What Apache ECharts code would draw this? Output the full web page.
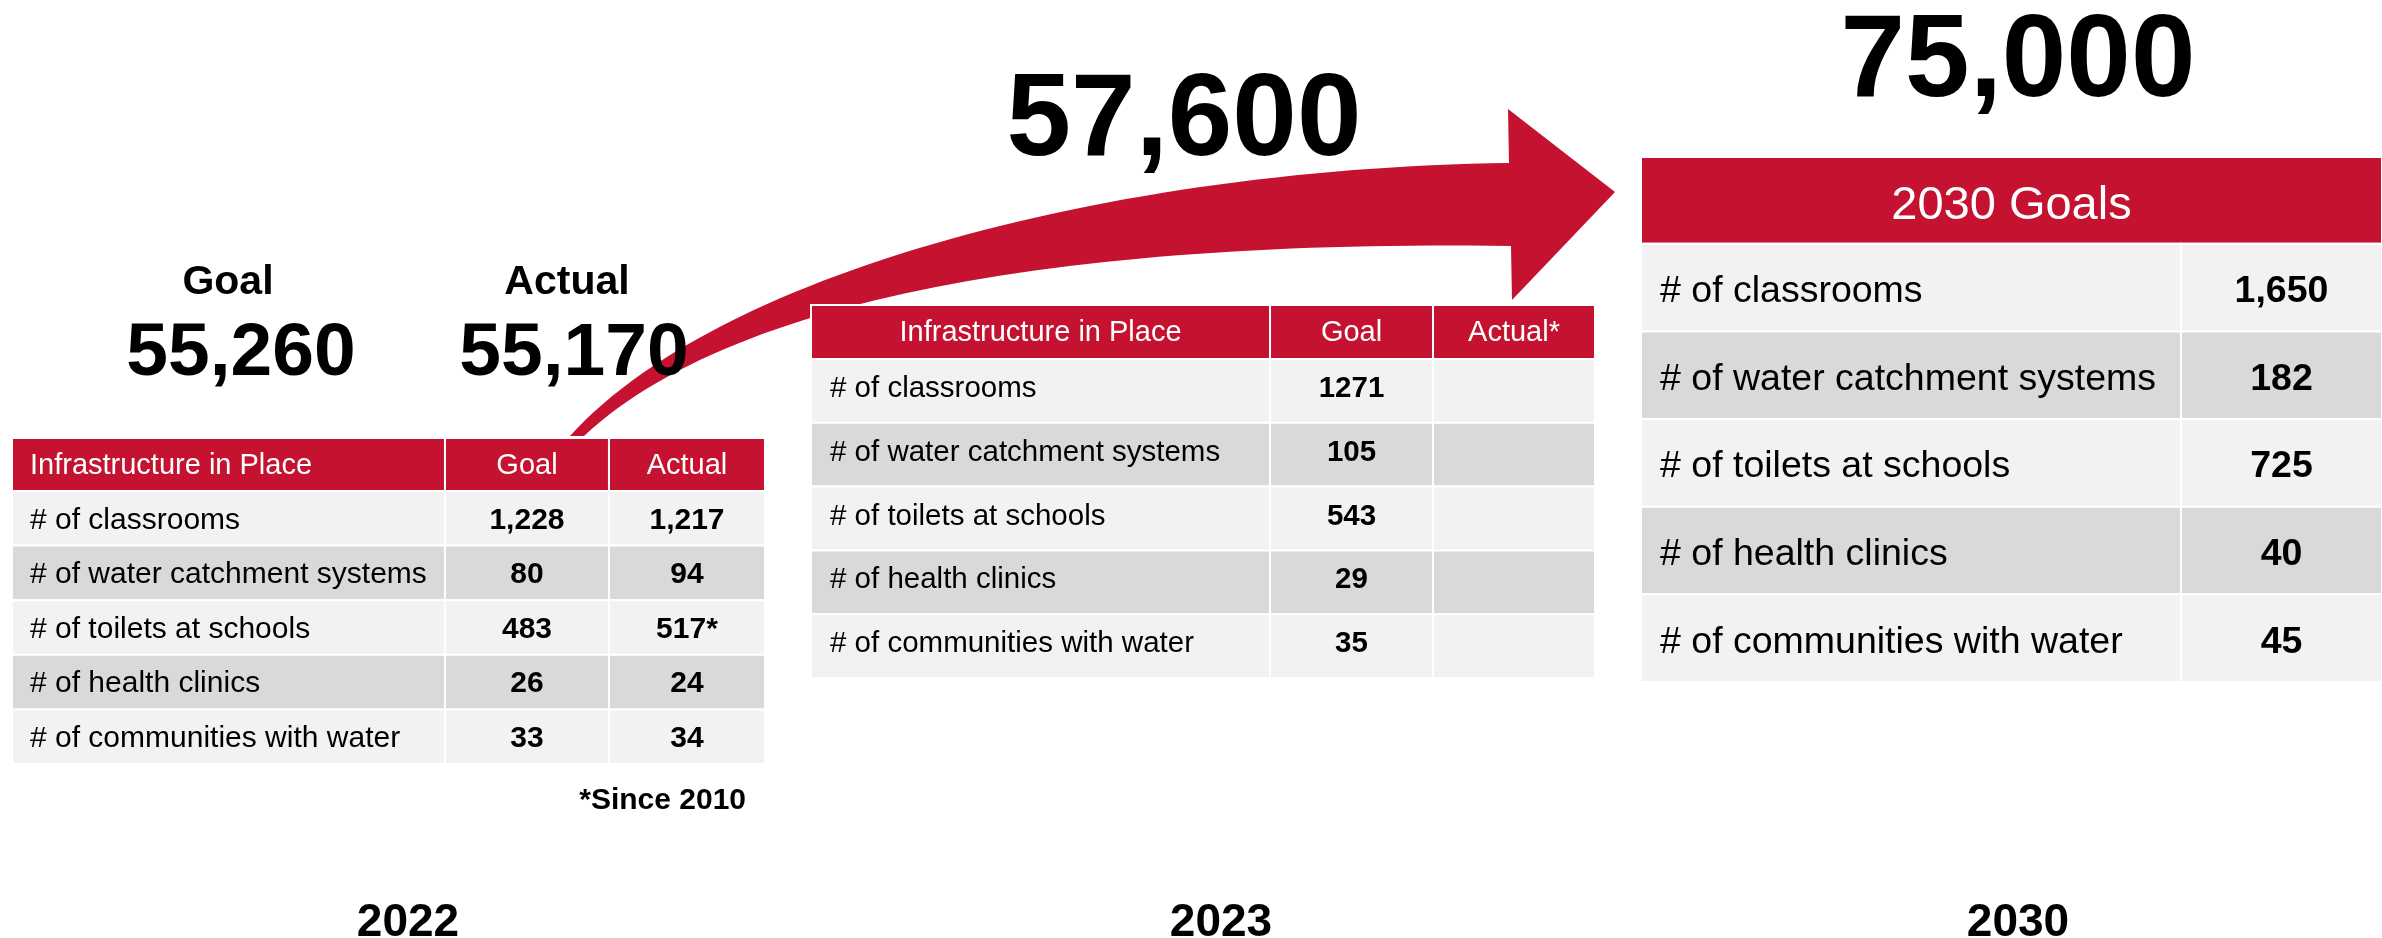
<!DOCTYPE html>
<html>
<head>
<meta charset="utf-8">
<title>Infrastructure goals 2022 - 2030</title>
<script src="https://cdn.jsdelivr.net/npm/echarts@6/dist/echarts.min.js"></script>
<style>
  html, body {margin: 0; padding: 0; background: #fff;}
  #main {width: 2382px; height: 938px;}
</style>
</head>
<body>
<div id="main"></div>
<script>
  'use strict';

  /* data */
  var rowLabels = ['# of classrooms', '# of water catchment systems', '# of toilets at schools', '# of health clinics', '# of communities with water'];
  var header2022 = ['Infrastructure in Place', 'Goal', 'Actual'];
  var goal2022 = [1228, 80, 483, 26, 33];
  var actual2022 = [1217, 94, 517, 24, 34];
  var actualNote2022 = ['', '', '*', '', ''];
  var header2023 = ['Infrastructure in Place', 'Goal', 'Actual*'];
  var goal2023 = [1271, 105, 543, 29, 35];
  var actual2023 = [null, null, null, null, null];
  var header2030 = ['2030 Goals'];
  var goal2030 = [1650, 182, 725, 40, 45];
  var totalGoal2022 = 55260;
  var totalActual2022 = 55170;
  var totalGoal2023 = 57600;
  var totalGoal2030 = 75000;
  var years = ['2022', '2023', '2030'];
  var footnote = '*Since 2010';

  var RED = '#C41230', LIGHT = '#F2F2F2', DARK = '#D9D9D9';
  var FONT = '"Liberation Sans", Arial, Helvetica, sans-serif';

  function fmt(v, sep){
    if(v === null || v === undefined){
      return '';
    }
    return sep ? v.toLocaleString('en-US') : String(v);
  }

  /*把表头和各列拼成单元格*/
  function buildCells(header, cols, headerSpan){
    var cells = [];
    header.forEach(function (h, c){
      cells.push({c: c, r: -1, span: headerSpan ? cols.length : 1, text: h});
    });
    cols.forEach(function (col, c){
      col.forEach(function (txt, r){
        cells.push({c: c, r: r, span: 1, text: txt});
      });
    });
    return cells;
  }

  var tables = [
    {
      grid: {left: 12, top: 438, width: 753, height: 326},
      edges: [0, 0.575, 0.7928, 1], hdr: 0.97, pad: 18, dy: 2, headDy: 2,
      headFont: 29, bodyFont: 30, headLeft: true,
      cells: buildCells(header2022, [
        rowLabels,
        goal2022.map(function (v){ return fmt(v, true); }),
        actual2022.map(function (v, i){ return fmt(v, true) + actualNote2022[i]; })
      ])
    },
    {
      grid: {left: 811, top: 305, width: 784, height: 373},
      edges: [0, 0.5855, 0.7934, 1], hdr: 0.846, pad: 19, dy: -2, headDy: 1,
      headFont: 29, bodyFont: 29.5, headLeft: false,
      cells: buildCells(header2023, [
        rowLabels,
        goal2023.map(function (v){ return fmt(v, false); }),
        actual2023.map(function (v){ return fmt(v, false); })
      ])
    },
    {
      grid: {left: 1641, top: 157, width: 752, height: 525},
      edges: [0, 0.7287, 1], hdr: 0.99, pad: 19, dy: 4, headDy: 6,
      headFont: 47, bodyFont: 37.5, headLeft: false,
      cells: buildCells(header2030, [
        rowLabels,
        goal2030.map(function (v){ return fmt(v, true); })
      ], true)
    }
  ];

  function tableRender(t){
    return function (params, api){
      var d = t.cells[params.dataIndex];
      var isHead = d.r < 0;
      var p0 = api.coord([t.edges[d.c], isHead ? -t.hdr : d.r]);
      var p1 = api.coord([t.edges[d.c + d.span], isHead ? 0 : d.r + 1]);
      var x = p0[0], y = p0[1], w = p1[0] - p0[0], h = p1[1] - p0[1];
      var left = d.c === 0 && (!isHead || t.headLeft);
      var fill = isHead ? RED : (d.r % 2 ? DARK : LIGHT);

      return {
        type: 'group',
        children: [
          {type: 'rect', shape: {x: x - 1, y: y - 1, width: w + 2, height: h + 2}, style: {fill: '#fff'}},
          {type: 'rect', shape: {x: x + 1, y: y + 1, width: w - 2, height: h - 2}, style: {fill: fill}},
          {
            type: 'text',
            style: {
              text: d.text,
              x: left ? x + t.pad : x + w / 2,
              y: y + h / 2 + (isHead ? t.headDy : t.dy),
              align: left ? 'left' : 'center',
              verticalAlign: 'middle',
              fill: isHead ? '#fff' : '#000',
              fontSize: isHead ? t.headFont : t.bodyFont,
              fontWeight: (!isHead && d.c > 0) ? 'bold' : 'normal',
              fontFamily: FONT
            }
          }
        ]
      };
    };
  }

  function bigText(txt, x, y, size, align){
    return {
      type: 'text', z: 100,
      style: {
        text: txt, x: x, y: y, align: align || 'center', verticalAlign: 'middle',
        fill: '#000', fontSize: size, fontWeight: 'bold', fontFamily: FONT
      }
    };
  }

  /*弯箭头：两条三次贝塞尔边 + 箭头*/
  function bezier(p, n){
    var pts = [];
    for(var i = 0; i <= n; i++){
      var t = i / n, u = 1 - t;
      pts.push([
        u * u * u * p[0][0] + 3 * u * u * t * p[1][0] + 3 * u * t * t * p[2][0] + t * t * t * p[3][0],
        u * u * u * p[0][1] + 3 * u * u * t * p[1][1] + 3 * u * t * t * p[2][1] + t * t * t * p[3][1]
      ]);
    }
    return pts;
  }
  var arrowPts = bezier([[570, 436], [720, 270], [1120, 168], [1509, 163]], 60)
    .concat([[1508, 109], [1615, 192], [1512, 300]])
    .concat(bezier([[1511, 246], [1100, 240], [740, 290], [584, 436]], 60));

  var myChart = echarts.init(document.getElementById('main'), null, {renderer: 'canvas'});
  var option = {
    backgroundColor: '#fff',
    animation: false,
    grid: tables.map(function (t){ return t.grid; }),
    xAxis: tables.map(function (t, i){
      return {type: 'value', gridIndex: i, min: 0, max: 1, show: false};
    }),
    yAxis: tables.map(function (t, i){
      return {type: 'value', gridIndex: i, min: -t.hdr, max: 5, inverse: true, show: false};
    }),
    series: tables.map(function (t, i){
      return {
        type: 'custom',
        xAxisIndex: i,
        yAxisIndex: i,
        z: 5,
        silent: true,
        renderItem: tableRender(t),
        data: t.cells.map(function (d){ return [t.edges[d.c], d.r]; })
      };
    }),
    graphic: [
      {type: 'polygon', z: 1, shape: {points: arrowPts}, style: {fill: RED}},
      bigText('Goal', 228, 283, 41),
      bigText('Actual', 567, 283, 41),
      bigText(fmt(totalGoal2022, true), 241, 354, 75),
      bigText(fmt(totalActual2022, true), 574, 354, 75),
      bigText(fmt(totalGoal2023, true), 1184, 123, 116),
      bigText(fmt(totalGoal2030, true), 2018, 64, 116),
      bigText(footnote, 746, 801, 30, 'right'),
      bigText(years[0], 408, 923, 46),
      bigText(years[1], 1221, 923, 46),
      bigText(years[2], 2018, 923, 46)
    ]
  };

  myChart.setOption(option);
</script>
</body>
</html>
